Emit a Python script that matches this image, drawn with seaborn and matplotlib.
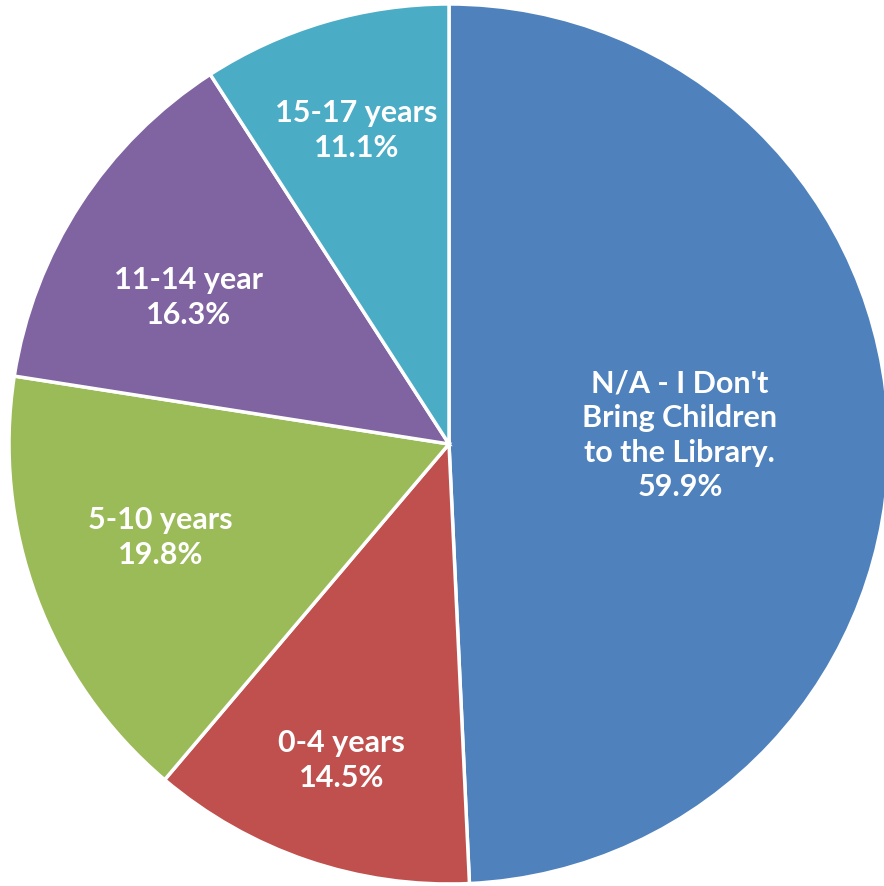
import numpy as np
import matplotlib
matplotlib.use("Agg")
import matplotlib.pyplot as plt
import seaborn as sns

categories = ["N/A - I Don't\nBring Children\nto the Library.", "0-4 years", "5-10 years", "11-14 year", "15-17 years"]
values = [59.9, 14.5, 19.8, 16.3, 11.1]
colors = ["#4F81BD", "#C0504D", "#9BBB59", "#8064A2", "#4BACC6"]

sns.set_theme(style="white")
plt.rcParams['font.family'] = ['Lato', 'DejaVu Sans']

W, H = 884, 886
fig = plt.figure(figsize=(W / 100, H / 100), dpi=100)
ax = fig.add_axes([0, 0, 1, 1])

wedges, _ = ax.pie(values, colors=colors, startangle=90, counterclock=False,
                   radius=1.0, wedgeprops=dict(edgecolor="white", linewidth=2.5))

# label placement (style): radius fraction and angular nudge in degrees
label_r = [0.525, 0.76, 0.69, 0.68, 0.743]
label_dang = [0.8, 0.0, -2.5, 3.7, 0.0]
for w, cat, v, r, da in zip(wedges, categories, values, label_r, label_dang):
    ang = np.deg2rad((w.theta1 + w.theta2) / 2 + da)
    ax.text(r * np.cos(ang), r * np.sin(ang), f"{cat}\n{v:.1f}%", ha="center", va="center",
            color="white", fontsize=22, fontweight="bold", linespacing=1.28)

R = 440.0
cx, cy = 449.0, 444.0
ax.set_xlim(-cx / R, (W - cx) / R)
ax.set_ylim(-(H - cy) / R, cy / R)
ax.set_aspect("auto")
ax.axis("off")
fig.savefig("out.png", dpi=100)
